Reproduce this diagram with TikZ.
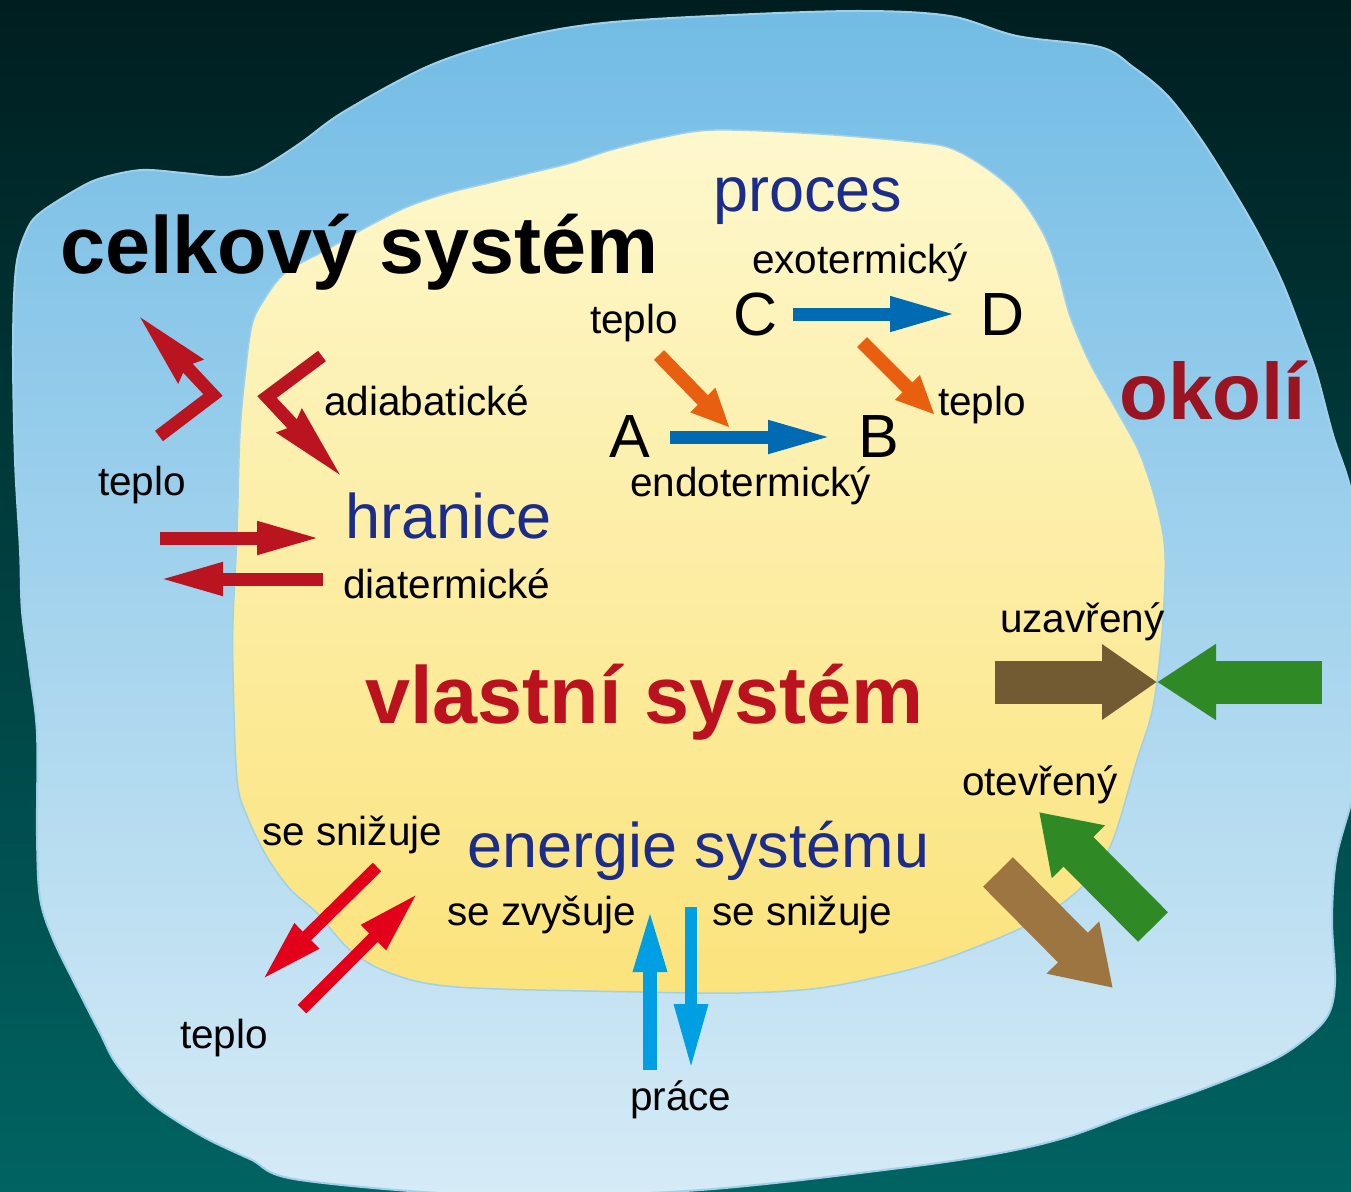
\documentclass[tikz,border=0pt]{standalone}
\usepackage{fontspec}
\setmainfont{Liberation Sans}
\usetikzlibrary{arrows.meta}
\definecolor{bgtop}{RGB}{0,30,32}
\definecolor{bgbot}{RGB}{0,100,98}
\definecolor{bltop}{RGB}{114,188,229}
\definecolor{blbot}{RGB}{214,235,246}
\definecolor{blline}{RGB}{160,208,234}
\definecolor{yetop}{RGB}{253,248,205}
\definecolor{yebot}{RGB}{251,227,124}
\definecolor{dkblue}{RGB}{28,44,138}
\definecolor{okred}{RGB}{154,20,34}
\definecolor{vlred}{RGB}{187,18,32}
\definecolor{arrdred}{RGB}{185,20,32}
\definecolor{arrbred}{RGB}{226,0,26}
\definecolor{arrblue}{RGB}{0,106,179}
\definecolor{arrorange}{RGB}{232,96,15}
\definecolor{arrcyan}{RGB}{0,159,227}
\definecolor{arrbrownd}{RGB}{114,90,51}
\definecolor{arrbrownl}{RGB}{156,117,65}
\definecolor{arrgreen}{RGB}{47,138,37}
\begin{document}
\begin{tikzpicture}[x=1pt,y=-1pt,
  lbl/.style={anchor=base west,inner sep=0pt,font=\fontsize{40.5}{48}\selectfont},
  big/.style={anchor=base west,inner sep=0pt,font=\fontsize{81}{90}\selectfont\bfseries},
  mid/.style={anchor=base west,inner sep=0pt,font=\fontsize{63}{70}\selectfont,text=dkblue},
  letter/.style={anchor=base west,inner sep=0pt,font=\fontsize{61}{70}\selectfont},
  thinarr/.style={line width=13pt,-{Triangle[length=65pt,width=30pt]}},
  bentarr/.style={line width=13pt,line join=miter,-{Stealth[length=75pt,width=32pt,inset=5pt]}},
  smallarr/.style={line width=14pt,-{Triangle[length=39pt,width=32pt]}},
  blockarr/.style={line width=43pt,-{Triangle[length=56pt,width=72pt]}}]
\useasboundingbox (0,0) rectangle (1351,1191);
\clip (0,0) rectangle (1351,1191);
% background
\shade[top color=bgtop,bottom color=bgbot] (0,0) rectangle (1351,1191);
% outer blob (okoli)
\shadedraw[top color=bltop,bottom color=blbot,draw=blline,line width=2pt]
 plot[smooth cycle,tension=0.55] coordinates {
 (40,213) (81,187) (105,177) (142,170) (183,173) (224,177) (250,173) (270,163)
 (302,142) (345,111) (431,65) (517,38) (603,23) (732,15) (862,11) (950,16)
 (1017,36) (1100,47) (1133,67) (1167,95) (1200,138) (1233,190) (1260,237)
 (1283,284) (1303,336) (1317,375) (1333,435) (1352,495) (1368,600) (1368,740)
 (1350,807) (1336,860) (1332,920) (1335,983) (1327,1017) (1300,1043) (1267,1063)
 (1200,1090) (1133,1113) (1067,1137) (1000,1153) (900,1168) (700,1190) (500,1196)
 (300,1180) (250,1159) (200,1135) (150,1102) (117,1065) (100,1033) (77,988)
 (53,939) (40,898) (37,836) (37,734) (30,673) (22,611) (20,550) (15,460)
 (13,345) (16,268) (26,232)};
% inner blob (vlastni system)
\shadedraw[top color=yetop,bottom color=yebot,draw=blline,line width=1.5pt]
 plot[smooth cycle,tension=0.55] coordinates {
 (262,303) (285,273) (326,250) (367,227) (407,207) (448,193) (489,183) (530,173)
 (571,163) (611,150) (660,138) (715,130) (819,134) (914,142) (950,148) (983,166)
 (1017,194) (1043,233) (1057,269) (1070,316) (1090,363) (1117,411) (1140,454)
 (1157,506) (1165,553) (1163,620) (1157,682) (1150,720) (1137,760) (1113,840)
 (1090,878) (1060,905) (1017,930) (950,957) (900,972) (820,988) (740,993)
 (640,992) (457,987) (390,973) (350,950) (317,913) (290,889) (267,857)
 (247,816) (237,779) (233,673) (233,620) (237,533) (240,433) (246,367) (252,325)};
% texts
\node[big] (celk) at (60,273) {celkový systém};
\node[mid] (proc) at (713,211) {proces};
\node[lbl] (exo) at (752,273) {exotermický};
\node[lbl] (tep1) at (590,333) {teplo};
\node[letter] (C) at (733,335) {C};
\node[letter] (D) at (980,335) {D};
\node[letter] (A) at (609,457) {A};
\node[letter] (B) at (858,457) {B};
\node[lbl] (tep2) at (938,415) {teplo};
\node[lbl] (endo) at (630,496) {endotermický};
\node[lbl] (adia) at (324,415) {adiabatické};
\node[lbl] (tep3) at (98,495) {teplo};
\node[mid] (hran) at (345,538) {hranice};
\node[lbl] (diat) at (343,598) {diatermické};
\node[big,font=\fontsize{80}{90}\selectfont\bfseries,text=okred] (okol) at (1119,419) {okolí};
\node[big,text=vlred] (vlas) at (365,723) {vlastní systém};
\node[lbl] (uzav) at (1000,632) {uzavřený};
\node[lbl] (otev) at (962,795) {otevřený};
\node[lbl] (sni1) at (262,845) {se snižuje};
\node[mid] (ener) at (467,867) {energie systému};
\node[lbl] (zvy) at (447,925) {se zvyšuje};
\node[lbl] (sni2) at (712,925) {se snižuje};
\node[lbl] (tep4) at (180,1048) {teplo};
\node[lbl] (prac) at (630,1110) {práce};
% arrow end points
\coordinate (cd1) at (793,314); \coordinate (cd2) at (957,314);
\coordinate (ab1) at (670,437); \coordinate (ab2) at (833,437);
\coordinate (o11) at (659,355); \coordinate (o12) at (730,428);
\coordinate (o21) at (862,342); \coordinate (o22) at (935,415);
\coordinate (l1s) at (159,436); \coordinate (l1c) at (213,395); \coordinate (l1t) at (138,315);
\coordinate (l2s) at (322,356); \coordinate (l2c) at (267,397); \coordinate (l2t) at (342,477);
\coordinate (h1s) at (160,538); \coordinate (h1t) at (322,538);
\coordinate (h2s) at (323,579); \coordinate (h2t) at (158,579);
\coordinate (b1s) at (377,867); \coordinate (b1t) at (262,980);
\coordinate (b2s) at (302,1009); \coordinate (b2t) at (418,893);
\coordinate (w1s) at (650,1070); \coordinate (w1t) at (650,907);
\coordinate (w2s) at (691,907); \coordinate (w2t) at (691,1070);
\coordinate (meet) at (1157,682);
\coordinate (bh) at (995,682); \coordinate (gh) at (1322,682);
\coordinate (gds) at (1153,927); \coordinate (gdt) at (1039,812);
\coordinate (bds) at (998,872); \coordinate (bdt) at (1113,988);
% process arrows
\draw[arrblue,line width=13pt,-{Triangle[length=67pt,width=32pt]}] (cd1) -- (cd2);
\draw[arrblue,thinarr] (ab1) -- (ab2);
\draw[arrorange,smallarr] (o11) -- (o12);
\draw[arrorange,smallarr] (o21) -- (o22);
% adiabatic
\draw[arrdred,bentarr] (l1s) -- (l1c) -- (l1t);
\draw[arrdred,bentarr] (l2s) -- (l2c) -- (l2t);
% diathermic
\draw[arrdred,thinarr] (h1s) -- (h1t);
\draw[arrdred,thinarr] (h2s) -- (h2t);
% heat bottom-left
\draw[arrbred,line width=12pt,-{Triangle[length=63pt,width=32pt]}] (b1s) -- (b1t);
\draw[arrbred,line width=12pt,-{Triangle[length=63pt,width=32pt]}] (b2s) -- (b2t);
% work
\draw[arrcyan,line width=14pt,-{Triangle[length=65pt,width=30pt]}] (w1s) -- (w1t);
\draw[arrcyan,line width=12pt,-{Triangle[length=66pt,width=31pt]}] (w2s) -- (w2t);
% closed / open
\draw[arrbrownd,blockarr,-{Triangle[length=55pt,width=72pt]}] (bh) -- (meet);
\draw[arrgreen,blockarr,-{Triangle[length=59pt,width=72pt]}] (gh) -- (meet);
\draw[arrgreen,line width=42pt,-{Triangle[length=56pt,width=71pt]}] (gds) -- (gdt);
\draw[arrbrownl,line width=42pt,-{Triangle[length=57pt,width=70pt]}] (bds) -- (bdt);
\end{tikzpicture}
\end{document}
